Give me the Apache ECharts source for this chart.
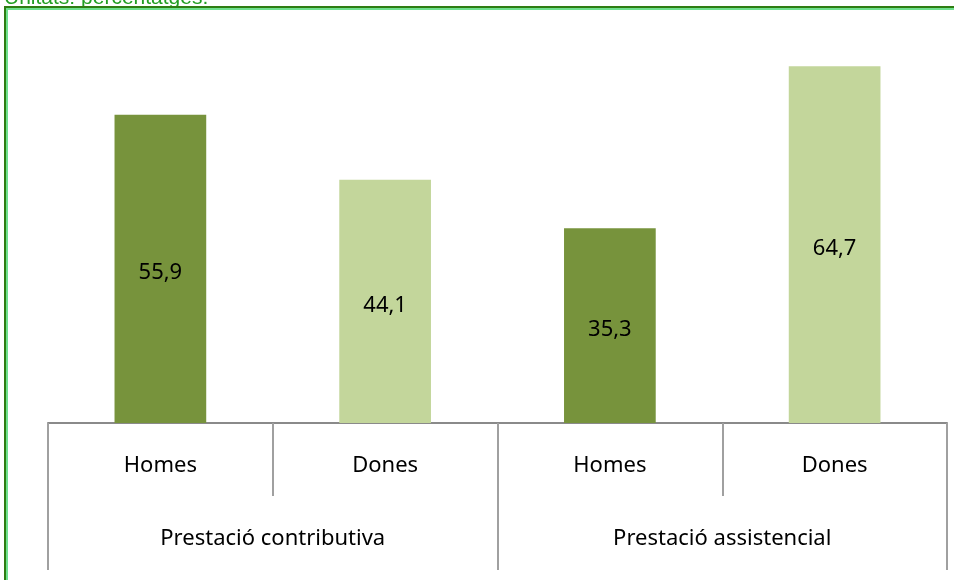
<!DOCTYPE html>
<html>
<head>
<meta charset="utf-8">
<script src="https://cdn.jsdelivr.net/npm/echarts@6/dist/echarts.min.js"></script>
<style>
    html, body { margin: 0; padding: 0; background: #fff; }
    #chart { width: 954px; height: 580px; }
</style>
</head>
<body>
<div id="chart"></div>
<script>
// dades del gràfic
const categories = ["Homes", "Dones", "Homes", "Dones"];
const groups = ["Prestació contributiva", "Prestació assistencial"];
const values = [55.9, 44.1, 35.3, 64.7];
const barColors = ["#77933C", "#C3D69B", "#77933C", "#C3D69B"];

const chart = echarts.init(document.getElementById("chart"));

const axisFont = { fontFamily: "Noto Sans", fontSize: 22, color: "#000" };

const option = {
    animation: false,
    grid: { left: 48, right: 7, top: 37, bottom: 157 },
    graphic: [
        {
            type: "text",
            left: 4,
            top: -12,
            style: { text: "Unitats: percentatges.", fill: "#229E22", font: "21px Arial" },
        },
        {
            type: "rect",
            shape: { x: 5, y: 7, width: 1000, height: 1000 },
            style: { fill: null, stroke: "#2E7D12", lineWidth: 2 },
        },
        {
            type: "rect",
            shape: { x: 7, y: 9, width: 1000, height: 1000 },
            style: { fill: null, stroke: "#6EE08E", lineWidth: 2 },
        },
    ],
    xAxis: [
        {
            type: "category",
            data: categories,
            position: "bottom",
            axisLine: { show: true, lineStyle: { color: "#8A8A8A", width: 2 } },
            axisTick: { show: true, length: 73, lineStyle: { color: "#A0A0A0", width: 2 } },
            axisLabel: { ...axisFont, margin: 32 },
        },
        {
            type: "category",
            data: groups,
            position: "bottom",
            offset: 73,
            axisLine: { show: false },
            axisTick: { show: true, length: 74, lineStyle: { color: "#A0A0A0", width: 2 } },
            axisLabel: { ...axisFont, margin: 32 },
        },
    ],
    yAxis: {
        type: "value",
        min: 0,
        max: 70,
        show: false,
    },
    series: [
        {
            type: "bar",
            xAxisIndex: 0,
            barWidth: "40.8%",
            data: values.map((v, i) => ({ value: v, itemStyle: { color: barColors[i] } })),
            label: {
                show: true,
                position: "inside",
                offset: [0, 4],
                ...axisFont,
                formatter: (p) => String(p.value).replace(".", ","),
            },
        },
    ],
};

chart.setOption(option);
</script>
</body>
</html>
